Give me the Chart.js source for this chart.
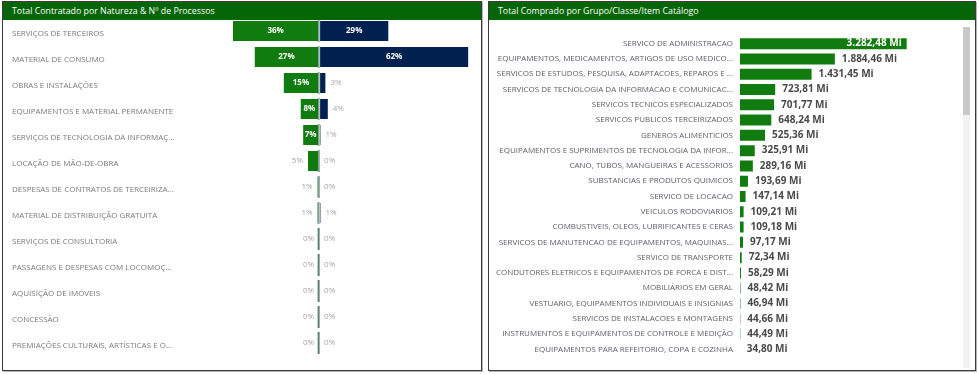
<!DOCTYPE html>
<html>
<head>
<meta charset="utf-8">
<script src="https://cdn.jsdelivr.net/npm/chart.js@4"></script>
<style>
  html, body { margin: 0; padding: 0; background: #fff; }
  body { width: 979px; height: 374px; position: relative; overflow: hidden; font-family: "Open Sans", sans-serif; }
  .panel { position: absolute; top: 1px; height: 368px; border: 1px solid #3b3b3b; box-shadow: 1px 1px 0 #b5b5b5; background: #fff; }
  .panel .head { position: absolute; left: 0; top: 0; right: 0; height: 18px; background: #066506; color: #fff; font-size: 8.8px; line-height: 18px; padding-left: 9px; }
  canvas { position: absolute; }
  #track { position: absolute; left: 963px; top: 27px; width: 7px; height: 341px; background: #f2f2f2; }
  #thumb { position: absolute; left: 963px; top: 27px; width: 7px; height: 88px; background: #c8c8c8; }
</style>
</head>
<body>
<div class="panel" style="left:2px; width:478px;"><div class="head">Total Contratado por Natureza &amp; Nº de Processos</div></div>
<div class="panel" style="left:488px; width:486px;"><div class="head">Total Comprado por Grupo/Classe/Item Catálogo</div></div>
<div id="track"></div><div id="thumb"></div>
<canvas id="natureza"></canvas>
<canvas id="catalogo"></canvas>

<script>
// ---- dados: total contratado por natureza (%) e nº de processos (%)
const naturezas = [
	"SERVIÇOS DE TERCEIROS",
	"MATERIAL DE CONSUMO",
	"OBRAS E INSTALAÇÕES",
	"EQUIPAMENTOS E MATERIAL PERMANENTE",
	"SERVIÇOS DE TECNOLOGIA DA INFORMAÇ...",
	"LOCAÇÃO DE MÃO-DE-OBRA",
	"DESPESAS DE CONTRATOS DE TERCEIRIZA...",
	"MATERIAL DE DISTRIBUIÇÃO GRATUITA",
	"SERVIÇOS DE CONSULTORIA",
	"PASSAGENS E DESPESAS COM LOCOMOÇ...",
	"AQUISIÇÃO DE IMÓVEIS",
	"CONCESSÃO",
	"PREMIAÇÕES CULTURAIS, ARTÍSTICAS E O...",
];
const totalContratadoPct = [36, 27, 15, 8, 7, 5, 1, 1, 0, 0, 0, 0, 0];
const numProcessosPct = [29, 62, 3, 4, 1, 0, 0, 1, 0, 0, 0, 0, 0];

// ---- dados: total comprado por grupo/classe/item catálogo (milhões)
const itensCatalogo = [
	"SERVICO DE ADMINISTRACAO",
	"EQUIPAMENTOS, MEDICAMENTOS, ARTIGOS DE USO MEDICO...",
	"SERVICOS DE ESTUDOS, PESQUISA, ADAPTACOES, REPAROS E ...",
	"SERVICOS DE TECNOLOGIA DA INFORMACAO E COMUNICAC...",
	"SERVICOS TECNICOS ESPECIALIZADOS",
	"SERVICOS PUBLICOS TERCEIRIZADOS",
	"GENEROS ALIMENTICIOS",
	"EQUIPAMENTOS E SUPRIMENTOS DE TECNOLOGIA DA INFOR...",
	"CANO, TUBOS, MANGUEIRAS E ACESSORIOS",
	"SUBSTANCIAS E PRODUTOS QUIMICOS",
	"SERVICO DE LOCACAO",
	"VEICULOS RODOVIARIOS",
	"COMBUSTIVEIS, OLEOS, LUBRIFICANTES E CERAS",
	"SERVICOS DE MANUTENCAO DE EQUIPAMENTOS, MAQUINAS...",
	"SERVICO DE TRANSPORTE",
	"CONDUTORES ELETRICOS E EQUIPAMENTOS DE FORCA E DIST...",
	"MOBILIÁRIOS EM GERAL",
	"VESTUARIO, EQUIPAMENTOS INDIVIDUAIS E INSIGNIAS",
	"SERVICOS DE INSTALACOES E MONTAGENS",
	"INSTRUMENTOS E EQUIPAMENTOS DE CONTROLE E MEDIÇÃO",
	"EQUIPAMENTOS PARA REFEITORIO, COPA E COZINHA",
];
const totalCompradoMi = [
	3282.48, 1884.46, 1431.45, 723.81, 701.77, 648.24, 525.36, 325.91, 289.16, 193.69, 147.14,
	109.21, 109.18, 97.17, 72.34, 58.29, 48.42, 46.94, 44.66, 44.49, 34.8,
];

const VERDE = "#107c10";
const AZUL = "#00204f";
const FONTE = '"Open Sans", sans-serif';

function formatMi(v) {
	const [int, dec] = v.toFixed(2).split(".");
	return int.replace(/\B(?=(\d{3})+(?!\d))/g, ".") + "," + dec + " Mi";
}

function place(canvas, left, top, width, height) {
	canvas.style.left = left + "px";
	canvas.style.top = top + "px";
	canvas.style.width = width + "px";
	canvas.style.height = height + "px";
	canvas.width = width;
	canvas.height = height;
}

// sem espaço extra acima/abaixo do eixo de categorias
function fitCategoryAxis(width) {
	return (axis) => {
		axis.width = width;
		axis.paddingTop = 0;
		axis.paddingBottom = 0;
	};
}

// traço central + rótulos do gráfico borboleta
const butterflyLabels = {
	id: "butterflyLabels",
	beforeDatasetsDraw(chart) {
		const { ctx } = chart;
		const x0 = chart.scales.x.getPixelForValue(0);
		ctx.save();
		ctx.fillStyle = "#5d7f7b";
		chart.getDatasetMeta(0).data.forEach((bar) => {
			ctx.fillRect(x0 - 1.5, bar.y - bar.height / 2, 2, bar.height);
		});
		ctx.restore();
	},
	afterDatasetsDraw(chart) {
		const { ctx } = chart;
		const x = chart.scales.x;
		const x0 = x.getPixelForValue(0);
		ctx.save();
		ctx.textBaseline = "middle";
		chart.data.datasets.forEach((ds, di) => {
			const meta = chart.getDatasetMeta(di);
			const source = di === 0 ? totalContratadoPct : numProcessosPct;
			meta.data.forEach((bar, i) => {
				const text = source[i] + "%";
				const end = x.getPixelForValue(di === 0 ? -source[i] : source[i]);
				const w = Math.abs(end - x0);
				ctx.font = "bold 8px " + FONTE;
				const tw = ctx.measureText(text).width;
				if (w > tw + 3) {
					ctx.fillStyle = "#fff";
					ctx.textAlign = "center";
					ctx.fillText(text, (end + x0) / 2, bar.y);
				} else {
					ctx.font = "8px " + FONTE;
					ctx.fillStyle = "#a6a6a6";
					if (di === 0) {
						ctx.textAlign = "right";
						ctx.fillText(text, Math.min(end, x0 - 1) - 4, bar.y);
					} else {
						ctx.textAlign = "left";
						ctx.fillText(text, Math.max(end, x0 + 1) + 4, bar.y);
					}
				}
			});
		});
		ctx.restore();
	},
};

const valueLabels = {
	id: "valueLabels",
	afterDatasetsDraw(chart) {
		const { ctx } = chart;
		const meta = chart.getDatasetMeta(0);
		ctx.save();
		ctx.textBaseline = "middle";
		ctx.font = "bold 10px " + FONTE;
		meta.data.forEach((bar, i) => {
			const text = formatMi(totalCompradoMi[i]);
			const w = bar.x - bar.base;
			const tw = ctx.measureText(text).width;
			if (w > tw * 2) {
				ctx.fillStyle = "#fff";
				ctx.textAlign = "right";
				ctx.fillText(text, bar.x - 6, bar.y);
			} else {
				ctx.fillStyle = "#4a4a4a";
				ctx.textAlign = "left";
				ctx.fillText(text, bar.x + 6, bar.y);
			}
		});
		ctx.restore();
	},
};

const natCanvas = document.getElementById("natureza");
place(natCanvas, 4, 18, 476, 338);

new Chart(natCanvas, {
	type: "bar",
	data: {
		labels: naturezas,
		datasets: [
			{
				label: "Total Contratado",
				data: totalContratadoPct.map((v) => -v),
				backgroundColor: VERDE,
				borderColor: "rgba(255,255,255,0.35)",
				borderWidth: 1,
				borderSkipped: false,
			},
			{
				label: "Nº de Processos",
				data: numProcessosPct,
				backgroundColor: AZUL,
				borderColor: "rgba(255,255,255,0.35)",
				borderWidth: 1,
				borderSkipped: false,
			},
		],
	},
	options: {
		indexAxis: "y",
		responsive: false,
		animation: false,
		layout: { padding: { left: 8, right: 6, top: 0, bottom: 0 } },
		datasets: { bar: { categoryPercentage: 1, barPercentage: 0.85 } },
		scales: {
			x: { stacked: false, min: -36, max: 64, display: false },
			y: {
				stacked: true,
				grid: { display: false, drawTicks: false },
				border: { display: false },
				afterFit: fitCategoryAxis(220),
				ticks: {
					crossAlign: "far",
					padding: 0,
					labelOffset: 2.5,
					color: "#7a7a7a",
					font: { family: FONTE, size: 8 },
				},
			},
		},
		plugins: { legend: { display: false }, tooltip: { enabled: false } },
	},
	plugins: [butterflyLabels],
});

const catCanvas = document.getElementById("catalogo");
place(catCanvas, 489, 36, 471, 321);

new Chart(catCanvas, {
	type: "bar",
	data: {
		labels: itensCatalogo,
		datasets: [
			{
				label: "Total Comprado",
				data: totalCompradoMi,
				backgroundColor: VERDE,
				borderColor: "rgba(255,255,255,0.3)",
				borderWidth: 1,
				borderSkipped: false,
			},
		],
	},
	options: {
		indexAxis: "y",
		responsive: false,
		animation: false,
		layout: { padding: 0 },
		datasets: { bar: { categoryPercentage: 1, barPercentage: 0.85 } },
		scales: {
			x: { min: 0, max: 4300, display: false },
			y: {
				grid: { display: false, drawTicks: false },
				border: { display: false },
				afterFit: fitCategoryAxis(250),
				ticks: {
					padding: 6,
					color: "#5e5d6c",
					font: { family: FONTE, size: 8 },
				},
			},
		},
		plugins: { legend: { display: false }, tooltip: { enabled: false } },
	},
	plugins: [valueLabels],
});
</script>
</body>
</html>
